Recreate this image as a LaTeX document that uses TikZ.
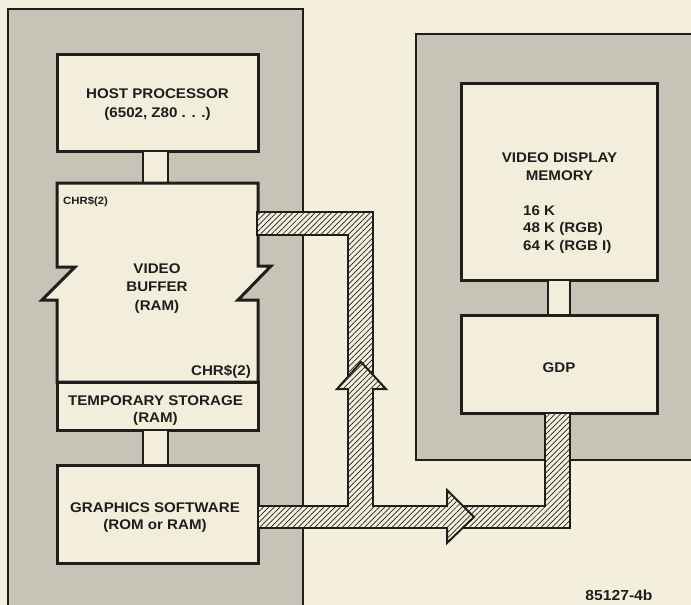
\documentclass[tikz,border=0pt]{standalone}
\usepackage{fontspec}
\newfontfamily\lab{Liberation Sans}[FakeStretch=1.08]
\usetikzlibrary{patterns.meta}
\definecolor{paper}{HTML}{F4EFDC}
\definecolor{panel}{HTML}{C6C4B7}
\definecolor{boxfill}{HTML}{F3EEDB}
\definecolor{ink}{HTML}{1E1E1C}
\tikzset{
  panelbox/.style={draw=ink, line width=2.6pt, fill=panel},
  box/.style={draw=ink, line width=3pt, fill=boxfill, rectangle, inner sep=0pt},
  stub/.style={draw=ink, line width=2.6pt, fill=boxfill},
  bus/.style={draw=ink, line width=2pt, line join=miter,
    preaction={fill=paper},
    pattern={Lines[angle=45,distance=3.9pt,line width=0.7pt]}, pattern color=ink},
  lbl/.style={text=ink, inner sep=0pt, align=center, font=\lab\bfseries\fontsize{14}{18.5}\selectfont},
}
\begin{document}
\begin{tikzpicture}[x=1pt,y=-1pt]
\useasboundingbox (0,0) rectangle (691,605);
\fill[paper] (0,0) rectangle (691,605);
\clip (0,0) rectangle (691,605);
% panels
\path[panelbox] (8,9) rectangle (303,640);
\path[panelbox] (416,34) rectangle (720,460);
% left boxes
\node[box, minimum width=201pt, minimum height=97pt] (host) at (157.5,102.5) {};
\path[stub] (143,151) rectangle (168,183);
\path[draw=ink, line width=3pt, fill=boxfill, line join=miter]
  (57,183) -- (258,183) -- (258,266) -- (271,266) -- (238,300) -- (258,300)
  -- (258,382) -- (57,382) -- (57,300) -- (42,300) -- (75,267) -- (57,267) -- cycle;
\coordinate (vbuf) at (157,282);
\node[box, minimum width=201pt, minimum height=48pt] (temp) at (157.5,406) {};
\path[stub] (143,430) rectangle (168,465);
\node[box, minimum width=201pt, minimum height=98pt] (gsw) at (157.5,514) {};
% right boxes
\node[box, minimum width=196pt, minimum height=197pt] (vdm) at (559,181.5) {};
\path[stub] (548,280) rectangle (570,315);
\node[box, minimum width=196pt, minimum height=98pt] (gdp) at (559,364) {};
% buses
\path[bus] (257,212) -- (373,212) -- (373,506) -- (545,506) -- (545,413)
  -- (570,413) -- (570,528) -- (258,528) -- (258,506) -- (348,506)
  -- (348,235) -- (257,235) -- cycle;
\path[bus, draw=none] (349,389) -- (337,389) -- (361,362) -- (386,389) -- (372,389) -- cycle;
\draw[ink, line width=2pt, line join=miter] (349,389) -- (337,389) -- (361,362) -- (386,389) -- (372,389);
\path[bus, draw=none] (447,507) -- (447,490) -- (474,517) -- (447,543) -- (447,527) -- cycle;
\draw[ink, line width=2pt, line join=miter] (447,507) -- (447,490) -- (474,517) -- (447,543) -- (447,527);
% labels (base anchor = baseline of last line)
\node[lbl, anchor=base, font=\lab\bfseries\fontsize{14}{19}\selectfont] (thost) at (157.5,117) {HOST PROCESSOR\\(6502, Z80 . . .)};
\node[lbl, anchor=base west, font=\lab\bfseries\fontsize{10.5}{12}\selectfont] (tchr1) at (63,204) {CHR\$(2)};
\node[lbl, anchor=base] (tvb) at (157,310) {VIDEO\\BUFFER\\(RAM)};
\node[lbl, anchor=base east] (tchr2) at (251,375) {CHR\$(2)};
\node[lbl, anchor=base, font=\lab\bfseries\fontsize{14}{17}\selectfont] (ttemp) at (155.5,422) {TEMPORARY STORAGE\\(RAM)};
\node[lbl, anchor=base, font=\lab\bfseries\fontsize{14}{17}\selectfont] (tgsw) at (155,529) {GRAPHICS SOFTWARE\\(ROM or RAM)};
\node[lbl, anchor=base, font=\lab\bfseries\fontsize{14}{18}\selectfont] (tvdm) at (559.5,180) {VIDEO DISPLAY\\MEMORY};
\node[lbl, anchor=base west, align=left, font=\lab\bfseries\fontsize{14}{17.5}\selectfont] (tk) at (523,250) {16 K\\48 K (RGB)\\64 K (RGB I)};
\node[lbl, anchor=base] (tgdp) at (559,372) {GDP};
\node[lbl, anchor=base, font=\lab\bfseries\fontsize{14.5}{17}\selectfont] (tfig) at (619,600) {85127-4b};
\end{tikzpicture}
\end{document}
